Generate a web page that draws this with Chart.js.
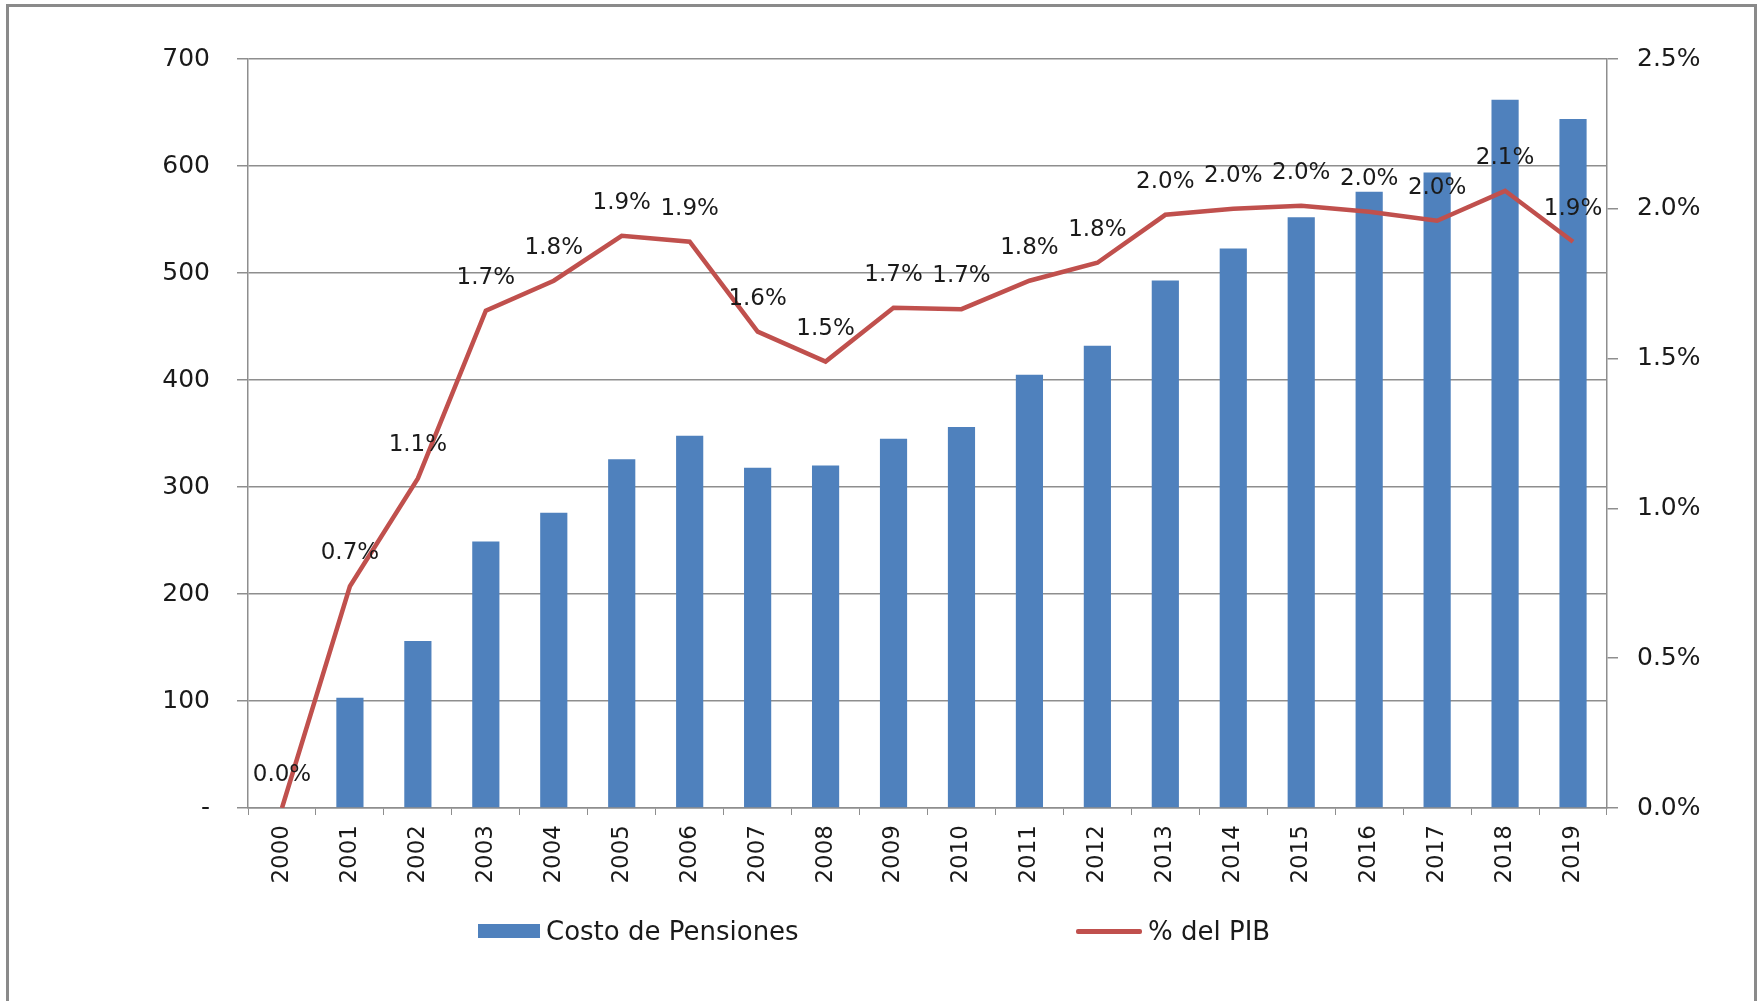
<!DOCTYPE html>
<html>
<head>
<meta charset="utf-8">
<script src="https://cdn.jsdelivr.net/npm/chart.js@4.4.1/dist/chart.umd.min.js"></script>
<style>
  html, body { margin: 0; padding: 0; background: #fff; overflow: hidden; }
  #wrap { position: relative; width: 1761px; height: 1001px; }
  #frame {
    position: absolute; left: 6px; top: 4px; width: 1751px; height: 1100px;
    border: 3px solid #8a8a8a; box-sizing: border-box;
  }
  #chart { position: absolute; left: 0; top: 0; }
  .legend-item {
    position: absolute; font-family: "DejaVu Sans", sans-serif; font-size: 26px;
    color: #1a1a1a; line-height: 30px; top: 916px; white-space: nowrap;
  }
  .swatch-bar { position: absolute; left: 478px; top: 924px; width: 62px; height: 14px; background: #4f81bd; }
  .swatch-line { position: absolute; left: 1076px; top: 929px; width: 66px; height: 5px; background: #c0504d; border-radius: 2px; }
</style>
</head>
<body>
<div id="wrap">
  <div id="frame"></div>
  <canvas id="chart" width="1761" height="1001"></canvas>
  <div class="swatch-bar"></div>
  <div class="legend-item" style="left:546px">Costo de Pensiones</div>
  <div class="swatch-line"></div>
  <div class="legend-item" style="left:1148px">% del PIB</div>
</div>
<script>
const years = ['2000', '2001', '2002', '2003', '2004', '2005', '2006', '2007', '2008', '2009',
               '2010', '2011', '2012', '2013', '2014', '2015', '2016', '2017', '2018', '2019'];
const costoPensiones = [0, 103, 156, 249, 276, 326, 348, 318, 320, 345,
                        356, 405, 432, 493, 523, 552, 576, 594, 662, 644];
const pctPib = [0.00, 0.74, 1.10, 1.66, 1.76, 1.91, 1.89, 1.59, 1.49, 1.67,
                1.665, 1.76, 1.82, 1.98, 2.00, 2.01, 1.99, 1.96, 2.06, 1.89];
const leftTicks = [0, 100, 200, 300, 400, 500, 600, 700];
const rightTicks = [0, 0.5, 1.0, 1.5, 2.0, 2.5];

const FONT = '"DejaVu Sans", sans-serif';
const TEXT = '#1a1a1a';
const GRID = '#8e8e8e';

// labels above the line points
const lineLabels = {
    id: 'lineLabels',
    afterDatasetsDraw(chart) {
        const meta = chart.getDatasetMeta(0);
        const ctx = chart.ctx;
        ctx.save();
        ctx.font = '23px ' + FONT;
        ctx.fillStyle = TEXT;
        ctx.textAlign = 'center';
        ctx.textBaseline = 'middle';
        meta.data.forEach((pt, i) => {
            ctx.fillText(pctPib[i].toFixed(1) + '%', pt.x, pt.y - 33);
        });
        ctx.restore();
    }
};

new Chart(document.getElementById('chart'), {
    type: 'bar',
    plugins: [lineLabels],
    data: {
        labels: years,
        datasets: [
            {
                type: 'line',
                label: '% del PIB',
                data: pctPib,
                yAxisID: 'y1',
                borderColor: '#c0504d',
                borderWidth: 4.5,
                pointRadius: 0,
                tension: 0,
                order: 0
            },
            {
                type: 'bar',
                label: 'Costo de Pensiones',
                data: costoPensiones,
                yAxisID: 'y',
                backgroundColor: '#4f81bd',
                barPercentage: 0.4,
                categoryPercentage: 1.0,
                order: 1
            }
        ]
    },
    options: {
        responsive: false,
        animation: false,
        devicePixelRatio: 1,
        layout: { padding: { top: 59, left: 0, right: 0, bottom: 0 } },
        plugins: {
            legend: { display: false },
            tooltip: { enabled: false }
        },
        scales: {
            x: {
                grid: { drawOnChartArea: false, color: GRID, tickLength: 7, offset: true },
                border: { color: GRID, width: 1.5 },
                ticks: {
                    color: TEXT,
                    font: { family: FONT, size: 23 },
                    maxRotation: 90,
                    minRotation: 90,
                    autoSkip: false,
                    padding: 10
                },
                afterFit: (s) => { s.height = 193; }
            },
            y: {
                position: 'left',
                min: 0,
                max: 700,
                afterBuildTicks: (s) => { s.ticks = leftTicks.map(v => ({ value: v })); },
                grid: { color: GRID, lineWidth: 1.5, tickLength: 11 },
                border: { color: GRID, width: 1.5 },
                ticks: {
                    color: TEXT,
                    font: { family: FONT, size: 25 },
                    padding: 27,
                    callback: (v) => v === 0 ? '-' : v
                },
                afterFit: (s) => { s.width = 248; }
            },
            y1: {
                position: 'right',
                min: 0,
                max: 2.5,
                afterBuildTicks: (s) => { s.ticks = rightTicks.map(v => ({ value: v })); },
                grid: { drawOnChartArea: false, color: GRID, lineWidth: 1.5, tickLength: 11 },
                border: { color: GRID, width: 1.5 },
                ticks: {
                    color: TEXT,
                    font: { family: FONT, size: 25 },
                    padding: 19,
                    callback: (v) => v.toFixed(1) + '%'
                },
                afterFit: (s) => { s.width = 154; }
            }
        }
    }
});
</script>
</body>
</html>
